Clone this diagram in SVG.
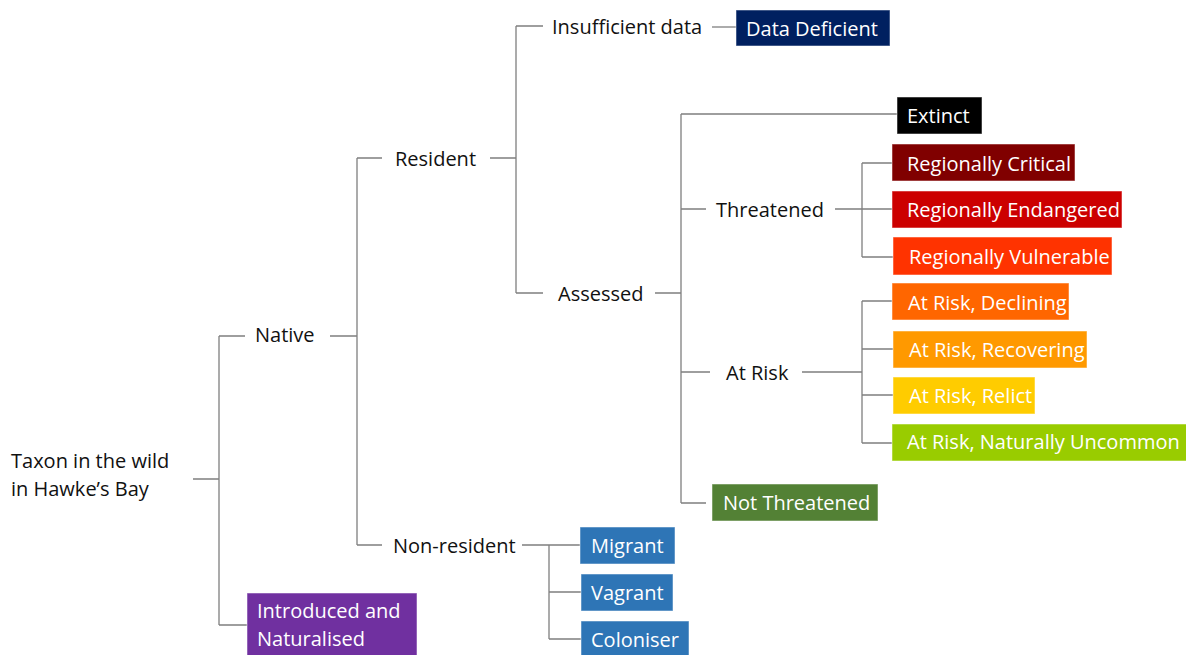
<svg xmlns="http://www.w3.org/2000/svg" width="1186" height="655" viewBox="0 0 1186 655">
<style>
.t{font-family:"Open Sans","Noto Sans","Liberation Sans",sans-serif;font-size:20px;fill:#111}
.w{font-family:"Open Sans","Noto Sans","Liberation Sans",sans-serif;font-size:20px;fill:#fff}
.b{stroke:#ffffff;stroke-opacity:0.5;stroke-width:1}
.c{fill:none;stroke:#7f7f7f;stroke-width:1.3}
</style>
<rect width="1186" height="655" fill="#fff"/>
<g id="connectors" class="c">
<path d="M193 479H219M219 336V625M219 336H245M219 625H247"/>
<path d="M330 336H357M357 158V545M357 158H382M357 545H382"/>
<path d="M490 158H516M516 26V293M516 26H543M516 293H543"/>
<path d="M712 27H736"/>
<path d="M655 293H681M681 114V503M681 114H897M681 209H706M681 372H710M681 503H706"/>
<path d="M835 209H892M862 163V257M862 163H892M862 257H893"/>
<path d="M802 372H862M862 301V443M862 301H892M862 349H893M862 395H893M862 443H892"/>
<path d="M522 545H580M549 545V639M549 592H581M549 639H581"/>
</g>
<g id="root"><text class="t" x="11" y="468">Taxon in the wild</text><text class="t" x="11" y="496">in Hawke’s Bay</text></g>
<g id="native"><text class="t" x="255" y="342">Native</text></g>
<g id="resident"><text class="t" x="395" y="166">Resident</text></g>
<g id="insufficient"><text class="t" x="552" y="34">Insufficient data</text></g>
<g id="dd"><rect class="b" x="736" y="10" width="154" height="36" fill="#002060"/><text class="w" x="746" y="36">Data Deficient</text></g>
<g id="assessed"><text class="t" x="558" y="301">Assessed</text></g>
<g id="extinct"><rect class="b" x="897" y="97" width="85" height="37" fill="#000"/><text class="w" x="907" y="123">Extinct</text></g>
<g id="threatened"><text class="t" x="716" y="217">Threatened</text></g>
<g id="rc"><rect class="b" x="892" y="144" width="183" height="37" fill="#800000"/><text class="w" x="907" y="171">Regionally Critical</text></g>
<g id="re"><rect class="b" x="892" y="191" width="230" height="37" fill="#cc0000"/><text class="w" x="907" y="217">Regionally Endangered</text></g>
<g id="rv"><rect class="b" x="893" y="237" width="219" height="38" fill="#ff3300"/><text class="w" x="909" y="264">Regionally Vulnerable</text></g>
<g id="atrisk"><text class="t" x="726" y="380">At Risk</text></g>
<g id="ard"><rect class="b" x="892" y="283" width="177" height="37" fill="#ff6600"/><text class="w" x="908" y="310">At Risk, Declining</text></g>
<g id="arr"><rect class="b" x="893" y="331" width="194" height="37" fill="#ff9900"/><text class="w" x="909" y="357">At Risk, Recovering</text></g>
<g id="arl"><rect class="b" x="893" y="377" width="142" height="37" fill="#ffcc00"/><text class="w" x="909" y="403">At Risk, Relict</text></g>
<g id="arn"><rect class="b" x="892" y="424" width="300" height="37" fill="#99cc00"/><text class="w" x="907" y="449">At Risk, Naturally Uncommon</text></g>
<g id="nt"><rect class="b" x="712" y="484" width="166" height="37" fill="#538135"/><text class="w" x="723" y="510">Not Threatened</text></g>
<g id="nonres"><text class="t" x="393" y="553">Non-resident</text></g>
<g id="migrant"><rect class="b" x="580" y="527" width="95" height="37" fill="#2e75b6"/><text class="w" x="591" y="553">Migrant</text></g>
<g id="vagrant"><rect class="b" x="581" y="574" width="92" height="37" fill="#2e75b6"/><text class="w" x="591" y="600">Vagrant</text></g>
<g id="coloniser"><rect class="b" x="581" y="621" width="108" height="40" fill="#2e75b6"/><text class="w" x="591" y="647">Coloniser</text></g>
<g id="introduced"><rect class="b" x="247" y="593" width="170" height="70" fill="#7030a0"/><text class="w" x="257" y="618">Introduced and</text><text class="w" x="257" y="646">Naturalised</text></g>
</svg>
